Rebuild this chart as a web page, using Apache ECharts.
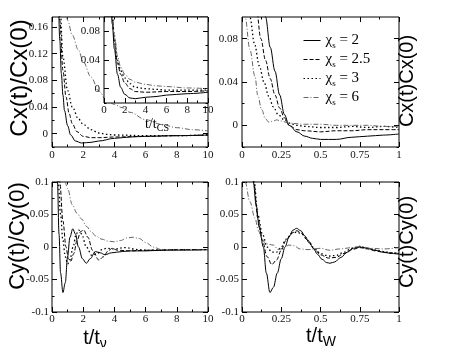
<!DOCTYPE html>
<html>
<head>
<meta charset="utf-8">
<script src="https://cdn.jsdelivr.net/npm/echarts@6/dist/echarts.min.js"></script>
<style>
html,body{margin:0;padding:0;background:#fff}
#chart{width:449px;height:347px}
</style>
</head>
<body>
<div id="chart"></div>
<script>
// legend names, one per chi_s
const names = ['χs = 2', 'χs = 2.5', 'χs = 3', 'χs = 6'];

// tick values
const tick10 = [0, 2, 4, 6, 8, 10];
const tick10Minor = [1, 3, 5, 7, 9];
const tick1 = [0, 0.25, 0.5, 0.75, 1];
const tick1Minor = [0.125, 0.375, 0.625, 0.875];
const tickCx = [0, 0.04, 0.08, 0.12, 0.16];
const tickCxMinor = [-0.02, 0.02, 0.06, 0.1, 0.14];
const tickCxSmall = [0, 0.04, 0.08];
const tickCxSmallMinor = [-0.02, 0.02, 0.06];
const tickCy = [-0.1, -0.05, 0, 0.05, 0.1];
const tickCyMinor = [-0.075, -0.025, 0.025, 0.075];

// Cx(t)/Cx(0) vs t/t_nu
const cxNu2 = [[0,1],[0.2,0.5],[0.4,0.2],[0.5,0.14],[0.6,0.09],[0.7,0.058],[0.8,0.035],[1.0,0.012],[1.2,-0.002],[1.5,-0.011],[1.9,-0.014],[2.5,-0.013],[3,-0.011],[4,-0.007],[5,-0.005],[6,-0.004],[8,-0.003],[10,-0.002]];
const cxNu25 = [[0,1],[0.3,0.35],[0.5,0.17],[0.7,0.095],[0.9,0.055],[1.1,0.03],[1.3,0.015],[1.6,0.003],[2,-0.004],[2.5,-0.006],[3,-0.006],[4,-0.005],[6,-0.004],[8,-0.003],[10,-0.002]];
const cxNu3 = [[0,1],[0.3,0.4],[0.5,0.2],[0.7,0.115],[1,0.065],[1.3,0.04],[1.7,0.022],[2,0.014],[2.5,0.006],[3,0.001],[3.5,-0.001],[4,-0.002],[6,-0.003],[8,-0.003],[10,-0.002]];
const cxNu6 = [[0,1],[0.5,0.4],[0.8,0.2],[1,0.17],[1.3,0.148],[1.7,0.125],[2,0.108],[2.5,0.085],[3,0.064],[3.5,0.05],[4,0.044],[4.5,0.039],[5,0.032],[6,0.021],[7,0.014],[8,0.009],[9,0.006],[10,0.004]];

// inset: Cx vs t/t_cs
const cxCs2 = [[0,1],[0.5,0.2],[0.8,0.09],[1,0.055],[1.3,0.02],[1.6,0.002],[2,-0.008],[2.5,-0.013],[3,-0.014],[4,-0.012],[5,-0.011],[6,-0.009],[8,-0.007],[10,-0.005]];
const cxCs25 = [[0,1],[0.5,0.2],[0.8,0.1],[1,0.065],[1.3,0.035],[1.6,0.02],[2,0.008],[2.5,0.0],[3,-0.004],[4,-0.005],[6,-0.004],[8,-0.004],[10,-0.003]];
const cxCs3 = [[0,1],[0.5,0.2],[0.8,0.1],[1,0.07],[1.3,0.04],[1.6,0.025],[2,0.015],[2.5,0.007],[3,0.002],[4,0.0],[5,-0.001],[6,-0.002],[8,-0.002],[10,-0.002]];
const cxCs6 = [[0,1],[0.5,0.2],[0.8,0.1],[1,0.075],[1.3,0.045],[1.6,0.03],[2,0.02],[2.5,0.013],[3,0.009],[4,0.006],[5,0.004],[6,0.003],[8,0.001],[10,0.0]];

// Cx vs t/t_W
const cxW2 = [[0,1],[0.1,0.3],[0.13,0.13],[0.15,0.1],[0.18,0.072],[0.21,0.05],[0.24,0.028],[0.27,0.01],[0.3,0.0],[0.35,-0.006],[0.4,-0.01],[0.45,-0.012],[0.5,-0.013],[0.6,-0.013],[0.7,-0.011],[0.8,-0.01],[0.9,-0.009],[1,-0.008]];
const cxW25 = [[0,1],[0.06,0.3],[0.09,0.11],[0.12,0.08],[0.15,0.06],[0.18,0.043],[0.21,0.028],[0.24,0.016],[0.27,0.007],[0.3,0.0],[0.35,-0.004],[0.4,-0.005],[0.5,-0.006],[0.6,-0.005],[0.7,-0.005],[0.8,-0.004],[0.9,-0.004],[1,-0.004]];
const cxW3 = [[0,1],[0.03,0.3],[0.05,0.1],[0.08,0.075],[0.11,0.055],[0.14,0.04],[0.17,0.027],[0.2,0.017],[0.23,0.01],[0.27,0.005],[0.3,0.002],[0.35,0.0],[0.4,-0.001],[0.5,-0.002],[0.6,-0.002],[0.7,-0.001],[0.8,-0.002],[0.9,-0.001],[1,-0.002]];
const cxW6 = [[0,0.4],[0.02,0.1],[0.05,0.07],[0.083,0.045],[0.1,0.028],[0.125,0.0145],[0.15,0.006],[0.17,0.003],[0.2,0.004],[0.22,0.005],[0.25,0.004],[0.3,0.002],[0.4,0.001],[0.5,0.001],[0.6,0.0],[0.7,0.0],[0.8,0.0],[0.9,-0.001],[1,-0.001]];

// Cy(t)/Cy(0) vs t/t_nu
const cyNu2 = [[0,1],[0.2,0.5],[0.35,0.1],[0.45,0.02],[0.55,-0.04],[0.7,-0.07],[0.85,-0.055],[1.0,-0.015],[1.15,0.015],[1.33,0.028],[1.5,0.02],[1.7,0.0],[1.95,-0.018],[2.2,-0.025],[2.45,-0.018],[2.78,-0.007],[3.1,-0.009],[3.4,-0.012],[3.8,-0.009],[4.5,-0.007],[5,-0.006],[6,-0.006],[7,-0.005],[8,-0.005],[10,-0.004]];
const cyNu25 = [[0,1],[0.3,0.3],[0.5,0.1],[0.7,0.04],[0.9,0.0],[1.05,-0.018],[1.2,-0.022],[1.4,-0.01],[1.6,0.01],[1.85,0.024],[2.03,0.026],[2.3,0.015],[2.6,-0.005],[3.0,-0.02],[3.3,-0.015],[3.6,-0.006],[3.85,-0.002],[4.2,-0.005],[5,-0.006],[6,-0.005],[8,-0.004],[10,-0.004]];
const cyNu3 = [[0,1],[0.2,0.3],[0.4,0.1],[0.55,0.05],[0.7,0.01],[0.85,-0.015],[1.0,-0.026],[1.15,-0.02],[1.35,0.0],[1.55,0.02],[1.71,0.026],[1.9,0.02],[2.2,0.0],[2.56,-0.013],[2.9,-0.01],[3.2,-0.004],[3.5,-0.002],[4,-0.003],[4.7,-0.001],[5.5,-0.004],[6,-0.005],[7,-0.005],[8,-0.004],[10,-0.004]];
const cyNu6 = [[0,0.5],[0.5,0.16],[0.83,0.1],[1,0.09],[1.3,0.065],[1.6,0.052],[1.9,0.043],[2.2,0.032],[2.5,0.024],[2.8,0.017],[3.2,0.012],[3.6,0.009],[4,0.008],[4.4,0.01],[4.8,0.014],[5.2,0.015],[5.6,0.013],[6,0.007],[6.5,0.0],[7,-0.004],[8,-0.005],[9,-0.005],[10,-0.004]];

// Cy vs t/t_W
const cyW2 = [[0,1],[0.05,0.2],[0.072,0.1],[0.09,0.065],[0.11,0.03],[0.136,0.0],[0.155,-0.04],[0.178,-0.07],[0.2,-0.062],[0.225,-0.04],[0.25,-0.018],[0.274,0.0],[0.3,0.016],[0.325,0.026],[0.348,0.0287],[0.375,0.025],[0.4,0.017],[0.43,0.006],[0.454,-0.002],[0.48,-0.011],[0.51,-0.019],[0.54,-0.024],[0.56,-0.025],[0.59,-0.023],[0.63,-0.016],[0.67,-0.008],[0.71,-0.002],[0.75,0.0],[0.8,-0.002],[0.85,-0.005],[0.9,-0.008],[0.95,-0.01],[1,-0.011]];
const cyW25 = [[0,1],[0.05,0.2],[0.075,0.1],[0.1,0.045],[0.13,0.01],[0.16,-0.015],[0.19,-0.027],[0.22,-0.02],[0.25,-0.005],[0.28,0.01],[0.32,0.022],[0.35,0.025],[0.38,0.021],[0.42,0.01],[0.46,-0.003],[0.5,-0.012],[0.55,-0.017],[0.6,-0.016],[0.65,-0.01],[0.7,-0.004],[0.75,-0.001],[0.8,-0.003],[0.85,-0.006],[0.9,-0.008],[0.95,-0.009],[1,-0.01]];
const cyW3 = [[0,1],[0.05,0.2],[0.078,0.1],[0.1,0.05],[0.13,0.02],[0.16,0.0],[0.19,-0.008],[0.22,-0.008],[0.25,0.0],[0.28,0.012],[0.32,0.021],[0.35,0.023],[0.38,0.02],[0.42,0.01],[0.46,-0.002],[0.5,-0.01],[0.55,-0.014],[0.6,-0.013],[0.65,-0.008],[0.7,-0.002],[0.75,0.001],[0.8,-0.002],[0.85,-0.005],[0.9,-0.007],[0.95,-0.009],[1,-0.01]];
const cyW6 = [[0,0.3],[0.02,0.1],[0.05,0.07],[0.083,0.044],[0.105,0.025],[0.125,0.013],[0.15,0.006],[0.17,0.004],[0.2,0.003],[0.23,-0.004],[0.26,-0.002],[0.3,0.003],[0.33,0.002],[0.37,-0.003],[0.42,-0.004],[0.5,-0.002],[0.56,-0.005],[0.62,-0.003],[0.7,-0.001],[0.75,0.001],[0.82,-0.002],[0.9,-0.003],[1,-0.001]];

const lineStyles = [
    {type: 'solid', width: 1, color: '#000'},
    {type: [4, 2], width: 1, color: '#000'},
    {type: [1.5, 2.5], width: 1.3, color: '#000'},
    {type: [5, 2, 1, 2], width: 1, color: '#666'}
];

const serif = '"Liberation Serif", "DejaVu Serif", serif';
const sans = '"Liberation Sans", Arial, sans-serif';

const grids = [], xAxes = [], yAxes = [], series = [];

function tickAxis(gi, pos, min, max, vals, len, showLabel, zl, margin) {
    return {
        type: 'value', gridIndex: gi, position: pos, min: min, max: max, zlevel: zl,
        axisLine: {show: false, onZero: false},
        splitLine: {show: false},
        axisTick: {show: true, inside: true, length: len, customValues: vals, lineStyle: {color: '#000', width: 1}},
        axisLabel: {show: showLabel, customValues: vals, margin: margin, fontFamily: serif, fontSize: 11, color: '#111', hideOverlap: false}
    };
}

function addPanel(box, xs, ys, curves, zl) {
    const gi = grids.length;
    grids.push(Object.assign({show: true, borderColor: '#000', borderWidth: 1, backgroundColor: '#fff', zlevel: zl}, box));
    const xi = xAxes.length, yi = yAxes.length;
    xAxes.push(tickAxis(gi, 'bottom', xs.min, xs.max, xs.major, 5, true, zl, xs.margin));
    xAxes.push(tickAxis(gi, 'top', xs.min, xs.max, xs.major, 5, false, zl, 0));
    xAxes.push(tickAxis(gi, 'bottom', xs.min, xs.max, xs.minor, 2.5, false, zl, 0));
    xAxes.push(tickAxis(gi, 'top', xs.min, xs.max, xs.minor, 2.5, false, zl, 0));
    yAxes.push(tickAxis(gi, 'left', ys.min, ys.max, ys.major, 5, true, zl, ys.margin));
    yAxes.push(tickAxis(gi, 'right', ys.min, ys.max, ys.major, 5, false, zl, 0));
    yAxes.push(tickAxis(gi, 'left', ys.min, ys.max, ys.minor, 2.5, false, zl, 0));
    yAxes.push(tickAxis(gi, 'right', ys.min, ys.max, ys.minor, 2.5, false, zl, 0));
    curves.forEach((d, k) => {
        series.push({
            type: 'line', name: names[k], data: d, xAxisIndex: xi, yAxisIndex: yi,
            symbol: 'none', smooth: 0.35, smoothMonotone: 'x', clip: true, zlevel: zl,
            itemStyle: {color: lineStyles[k].color},
            lineStyle: lineStyles[k]
        });
    });
}

addPanel({left: 52, top: 17, width: 156, height: 130},
    {min: 0, max: 10, major: tick10, minor: tick10Minor, margin: 3},
    {min: -0.02, max: 0.175, major: tickCx, minor: tickCxMinor, margin: 4},
    [cxNu2, cxNu25, cxNu3, cxNu6], 0);
addPanel({left: 104, top: 17, width: 104, height: 86},
    {min: 0, max: 10, major: tick10, minor: tick10Minor, margin: 2},
    {min: -0.02, max: 0.1, major: tickCxSmall, minor: tickCxSmallMinor, margin: 4},
    [cxCs2, cxCs25, cxCs3, cxCs6], 1);
addPanel({left: 242, top: 17, width: 157, height: 130},
    {min: 0, max: 1, major: tick1, minor: tick1Minor, margin: 3},
    {min: -0.02, max: 0.1, major: tickCxSmall, minor: tickCxSmallMinor, margin: 4},
    [cxW2, cxW25, cxW3, cxW6], 0);
addPanel({left: 52, top: 182, width: 156, height: 130},
    {min: 0, max: 10, major: tick10, minor: tick10Minor, margin: 2},
    {min: -0.1, max: 0.1, major: tickCy, minor: tickCyMinor, margin: 3},
    [cyNu2, cyNu25, cyNu3, cyNu6], 0);
addPanel({left: 242, top: 182, width: 157, height: 130},
    {min: 0, max: 1, major: tick1, minor: tick1Minor, margin: 2},
    {min: -0.1, max: 0.1, major: tickCy, minor: tickCyMinor, margin: 3},
    [cyW2, cyW25, cyW3, cyW6], 0);

function subTitle(main, sub, x, y, size, subSize, font, drop) {
    return {
        type: 'text', x: x, y: y, zlevel: 2,
        style: {
            text: '{a|' + main + '}{b|' + sub + '}',
            align: 'center', verticalAlign: 'middle', fill: '#000',
            rich: {
                a: {fontSize: size, fontFamily: font, lineHeight: size, verticalAlign: 'top'},
                b: {fontSize: subSize, fontFamily: font, lineHeight: subSize, padding: [drop, 0, 0, 0], verticalAlign: 'top'}
            }
        }
    };
}

function yTitle(text, x, y, size) {
    return {
        type: 'text', x: x, y: y, rotation: Math.PI / 2,
        style: {text: text, fontSize: size, fontFamily: sans, fill: '#000', align: 'center', verticalAlign: 'middle'}
    };
}

const option = {
    animation: false,
    backgroundColor: '#fff',
    grid: grids,
    xAxis: xAxes,
    yAxis: yAxes,
    legend: {
        data: names,
        orient: 'vertical',
        left: 298, top: 28,
        itemWidth: 17, itemHeight: 12, itemGap: 2,
        selectedMode: false,
        itemStyle: {opacity: 0, borderWidth: 0},
        lineStyle: {width: 1},
        formatter: name => '{g|χ}{s|s}{g| = ' + name.split('= ')[1] + '}',
        textStyle: {
            color: '#000',
            rich: {
                g: {fontSize: 15, fontFamily: serif, lineHeight: 15, verticalAlign: 'top'},
                s: {fontSize: 9, fontFamily: serif, lineHeight: 9, padding: [8, 0, 0, 0], verticalAlign: 'top'}
            }
        }
    },
    graphic: [
        yTitle('Cx(t)/Cx(0)', 20, 78, 24),
        yTitle('Cx(t)Cx(0)', 407, 81, 20),
        yTitle('Cy(t)/Cy(0)', 18, 236, 22),
        yTitle('Cy(t)Cy(0)', 407, 242, 20),
        subTitle('t/t', 'ν', 95, 338, 20, 14, sans, 9),
        subTitle('t/t', 'W', 321, 336, 20, 14, sans, 9),
        subTitle('t/t', 'CS', 157, 124, 14, 10, serif, 6)
    ],
    series: series
};

const myChart = echarts.init(document.getElementById('chart'));
myChart.setOption(option);
</script>
</body>
</html>
